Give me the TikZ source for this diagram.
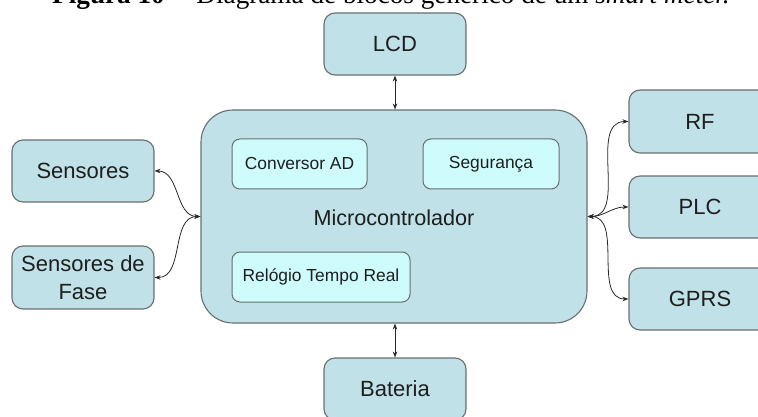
\documentclass[tikz,border=0pt]{standalone}
\usepackage{fontspec}
\setmainfont{Liberation Sans}
\newfontfamily\capfont{Liberation Serif}
\usetikzlibrary{arrows.meta}
\definecolor{boxfill}{RGB}{191,225,231}
\definecolor{innerfill}{RGB}{206,252,252}
\definecolor{boxline}{RGB}{105,110,112}
\definecolor{txt}{RGB}{30,30,30}
\definecolor{conn}{RGB}{40,40,40}
\tikzset{
  blk/.style={draw=boxline, line width=1.1pt, fill=boxfill, rounded corners=11pt,
    inner sep=0pt, text=txt, align=center, font=\fontsize{22}{28}\selectfont},
  inner/.style={draw=boxline, line width=1.0pt, fill=innerfill, rounded corners=8pt,
    inner sep=0pt, text=txt, font=\fontsize{17.4}{20}\selectfont},
  link/.style={draw=conn, line width=0.8pt, {Stealth[length=6pt,width=4.5pt]}-{Stealth[length=6pt,width=4.5pt]}}
}
\begin{document}
\begin{tikzpicture}[x=1pt,y=-1pt]
\useasboundingbox (0,0) rectangle (758,417);
% caption (cut off at top)
\node[anchor=base, inner sep=0pt, font=\capfont\fontsize{27.2}{30}\selectfont] (cap) at (391,4)
  {\textbf{Figura 10} -- Diagrama de blocos genérico de um \textit{smart meter.}};
% microcontroller
\node[blk, rounded corners=32pt, minimum width=386pt, minimum height=213pt] (mc) at (394,216.5) {};
\node[text=txt, inner sep=0pt, font=\fontsize{21.6}{26}\selectfont] (mctext) at (394,218) {Microcontrolador};
\node[inner, minimum width=135pt, minimum height=50pt] (ad) at (299.5,164) {Conversor AD};
\node[inner, minimum width=136pt, minimum height=50pt] (seg) at (491,164) {Segurança};
\node[inner, minimum width=178pt, minimum height=50pt] (rtc) at (321,277) {Relógio Tempo Real};
% outer blocks
\node[blk, minimum width=142pt, minimum height=62pt] (lcd) at (395,44) {LCD};
\node[blk, minimum width=142pt, minimum height=62pt] (bat) at (395,389) {Bateria};
\node[blk, minimum width=142pt, minimum height=62pt] (sen) at (83,171) {Sensores};
\node[blk, minimum width=142pt, minimum height=63pt] (sfa) at (83,277.5) {Sensores de\\Fase};
\node[blk, minimum width=142pt, minimum height=63pt] (rf) at (700,121.5) {RF};
\node[blk, minimum width=142pt, minimum height=62pt] (plc) at (700,207) {PLC};
\node[blk, minimum width=142pt, minimum height=62pt] (gprs) at (700,299) {GPRS};
% connectors
\draw[link] (lcd.south) -- (lcd.south |- mc.north);
\draw[link] (bat.north) -- (bat.north |- mc.south);
\draw[link] (sen.east) to[out=0,in=180] (mc.west);
\draw[link] (sfa.east) to[out=0,in=180] (mc.west);
\draw[link] (rf.west) to[out=180,in=0] (mc.east);
\draw[link] (plc.west) to[out=180,in=0] (mc.east);
\draw[link] (gprs.west) to[out=180,in=0] (mc.east);
\end{tikzpicture}
\end{document}
